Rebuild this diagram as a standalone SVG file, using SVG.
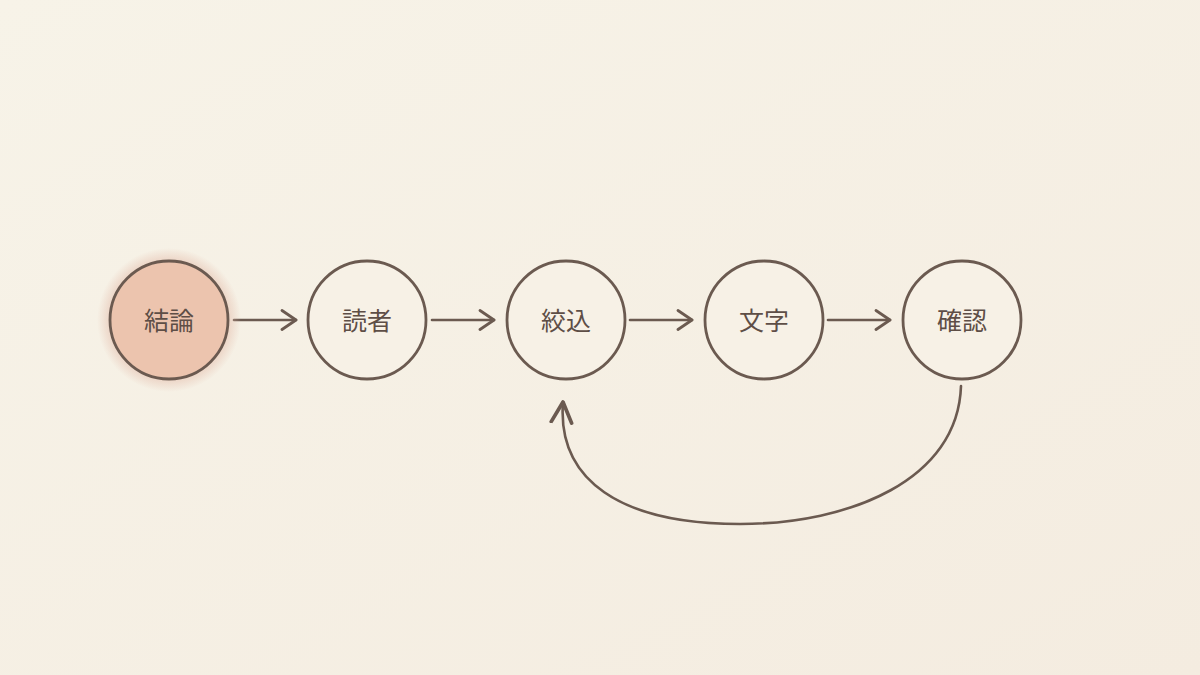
<svg xmlns="http://www.w3.org/2000/svg" width="1200" height="675" viewBox="0 0 1200 675">
<defs>
<linearGradient id="bg" x1="0" y1="0" x2="1" y2="1">
<stop offset="0" stop-color="#f7f3e8"/>
<stop offset="1" stop-color="#f4ece0"/>
</linearGradient>
<radialGradient id="glow" cx="0.5" cy="0.5" r="0.5">
<stop offset="0.75" stop-color="#e2b8a6" stop-opacity="0.7"/>
<stop offset="1" stop-color="#e2b8a6" stop-opacity="0"/>
</radialGradient>
<marker id="arr" viewBox="0 0 18 22" refX="16" refY="11" markerWidth="18" markerHeight="22" markerUnits="userSpaceOnUse" orient="auto">
<path d="M2 1.5 L16 11 L2 20.5" fill="none" stroke="#6b5a50" stroke-width="2.8" stroke-linecap="round" stroke-linejoin="round"/>
</marker>
<marker id="arr2" viewBox="0 0 14 14" refX="12" refY="7" markerWidth="26" markerHeight="26" markerUnits="userSpaceOnUse" orient="auto">
<path d="M1 1.5 L12 7 L1 12.5" fill="none" stroke="#6b5a50" stroke-width="2" stroke-linecap="round" stroke-linejoin="round"/>
</marker>
</defs>
<style>
.node{stroke:#6b5a50;stroke-width:2.8;fill:#f7f1e6}
.hot{fill:#ecc4ae}
.lbl{font-family:"Noto Sans CJK JP","Noto Sans CJK SC",sans-serif;font-size:25px;fill:#5e4e46;text-anchor:middle;dominant-baseline:central}
.edge{fill:none;stroke:#6b5a50;stroke-width:2.6;stroke-linecap:round}
</style>
<rect width="1200" height="675" fill="url(#bg)"/>
<g id="connectors">
<path class="edge" d="M234 320 L296 320" marker-end="url(#arr)"/>
<path class="edge" d="M432 320 L494 320" marker-end="url(#arr)"/>
<path class="edge" d="M630 320 L692 320" marker-end="url(#arr)"/>
<path class="edge" d="M828 320 L890 320" marker-end="url(#arr)"/>
<path class="edge" d="M961 386 C958 480 850 524 740 524 C620 524 557 480 563 402" marker-end="url(#arr2)"/>
</g>
<g id="n1">
<circle cx="169" cy="320" r="72" fill="url(#glow)"/>
<circle class="node hot" cx="169" cy="320" r="59"/>
<text class="lbl" x="169" y="319">結論</text>
</g>
<g id="n2">
<circle class="node" cx="367" cy="320" r="59"/>
<text class="lbl" x="367" y="319">読者</text>
</g>
<g id="n3">
<circle class="node" cx="566" cy="320" r="59"/>
<text class="lbl" x="566" y="319">絞込</text>
</g>
<g id="n4">
<circle class="node" cx="764" cy="320" r="59"/>
<text class="lbl" x="764" y="319">文字</text>
</g>
<g id="n5">
<circle class="node" cx="962" cy="320" r="59"/>
<text class="lbl" x="962" y="319">確認</text>
</g>
</svg>
